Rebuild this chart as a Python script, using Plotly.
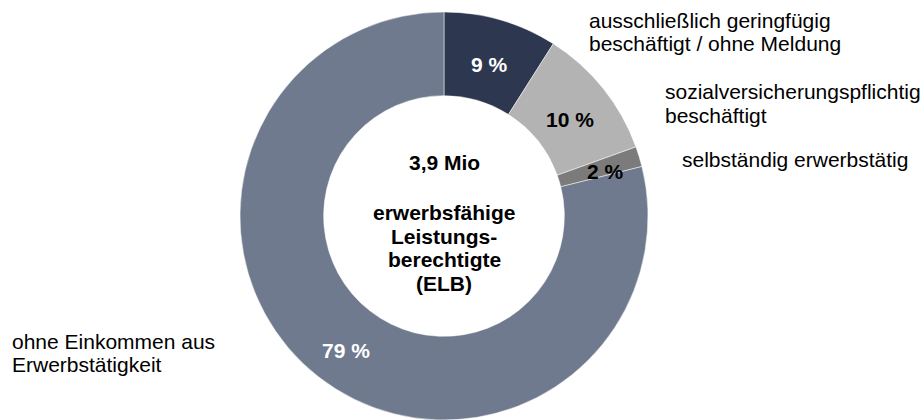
import plotly.graph_objects as go

# ---- data ----
categories = [
    "ausschließlich geringfügig beschäftigt / ohne Meldung",
    "sozialversicherungspflichtig beschäftigt",
    "selbständig erwerbstätig",
    "ohne Einkommen aus Erwerbstätigkeit",
]
values = [9.0, 10.5, 1.6, 78.9]
pct_labels = ["9 %", "10 %", "2 %", "79 %"]
colors = ["#2e3750", "#b3b3b3", "#7b7b7b", "#6f7a8e"]
pct_colors = ["white", "black", "black", "white"]
outer_label_lines = [
    ["ausschließlich geringfügig", "beschäftigt / ohne Meldung"],
    ["sozialversicherungspflichtig", "beschäftigt"],
    ["selbständig erwerbstätig"],
    ["ohne Einkommen aus", "Erwerbstätigkeit"],
]
center_title = "3,9 Mio"
center_lines = ["erwerbsfähige", "Leistungs-", "berechtigte", "(ELB)"]

W, H = 923, 420
FONT = "Liberation Sans, Arial, sans-serif"
FS = 21

fig = go.Figure(go.Pie(
    labels=categories, values=values, sort=False, direction="clockwise",
    rotation=0, hole=0.59, textinfo="none", hoverinfo="label+percent",
    marker=dict(colors=colors, line=dict(color="white", width=0.5)),
    domain=dict(x=[0, 888 / W], y=[0, 408 / H]),
    showlegend=False,
))

def px(x, y):
    return x / W, 1 - y / H

ann = []
# percentage labels
pct_pos = [(489, 64), (570, 119), (605, 171), (346, 350)]
for t, c, (x, y) in zip(pct_labels, pct_colors, pct_pos):
    ax, ay = px(x, y)
    ann.append(dict(x=ax, y=ay, text=f"<b>{t}</b>", showarrow=False,
                    xanchor="center", yanchor="middle",
                    font=dict(size=FS, color=c, family=FONT)))
# outer category labels
outer_pos = [(587, [20, 44]), (663, [91, 115]), (680, [159]), (10, [341, 364])]
for lines, (x, ys) in zip(outer_label_lines, outer_pos):
    for line, y in zip(lines, ys):
        ax, ay = px(x, y)
        ann.append(dict(x=ax, y=ay, text=line, showarrow=False,
                        xanchor="left", yanchor="middle",
                        font=dict(size=FS, color="black", family=FONT)))
# center text
ax, ay = px(444, 163)
ann.append(dict(x=ax, y=ay, text=f"<b>{center_title}</b>", showarrow=False,
                xanchor="center", yanchor="middle",
                font=dict(size=FS, color="black", family=FONT)))
for line, y in zip(center_lines, [212, 236, 259, 283]):
    ax, ay = px(444, y)
    ann.append(dict(x=ax, y=ay, text=f"<b>{line}</b>", showarrow=False,
                    xanchor="center", yanchor="middle",
                    font=dict(size=FS, color="black", family=FONT)))

fig.update_layout(
    width=W, height=H, margin=dict(l=0, r=0, t=0, b=0),
    paper_bgcolor="white", plot_bgcolor="white",
    annotations=ann,
)
fig.write_html("out.html", config={"displayModeBar": False},
               post_script="document.body.style.margin='0';document.body.style.overflow='hidden';")
